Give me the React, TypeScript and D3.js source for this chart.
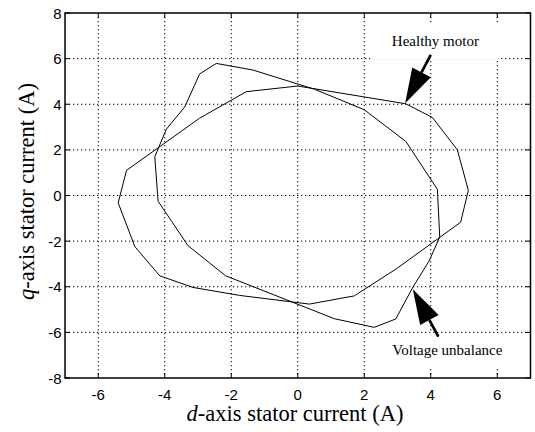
import * as d3 from "d3";

// d/q stator current trajectories (A)
const healthyD = [-3.15, -1.75, 0.35, 1.7, 2.95, 4.9, 5.13, 4.8, 4.05, 3.25, 0.0, -1.55, -2.95, -5.15, -5.4, -4.9, -4.15];
const healthyQ = [-4.03, -4.38, -4.76, -4.4, -3.23, -1.17, 0.23, 2.0, 3.42, 4.02, 4.8, 4.55, 3.39, 1.1, -0.32, -2.24, -3.52];

const unbalanceD = [-2.45, -1.35, 0.5, 2.0, 3.25, 4.2, 4.27, 3.95, 3.45, 2.95, 2.3, 1.1, -2.17, -3.3, -4.2, -4.3, -3.95, -3.4, -2.95];
const unbalanceQ = [5.79, 5.5, 4.66, 3.76, 2.37, 0.27, -1.82, -2.87, -4.05, -5.41, -5.78, -5.4, -3.52, -2.2, -0.25, 1.7, 2.91, 3.88, 5.33];

const xTicks = [-6, -4, -2, 0, 2, 4, 6];
const yTicks = [-8, -6, -4, -2, 0, 2, 4, 6, 8];

const annotations = [
  { label: "Healthy motor", tip: [3.23, 4.04], tail: [4.0, 6.16], text: [4.14, 6.55] },
  { label: "Voltage unbalance", tip: [3.46, -4.11], tail: [4.23, -6.19], text: [4.5, -6.99] },
];

const width = 535;
const height = 432;
const margin = { top: 13, right: 4.5, bottom: 54, left: 65 };

const serif = "'Liberation Serif', 'Times New Roman', serif";
const sans = "'Liberation Sans', Arial, Helvetica, sans-serif";

export default function App() {
  const x = d3.scaleLinear().domain([-7, 7]).range([margin.left, width - margin.right]);
  const y = d3.scaleLinear().domain([-8, 8]).range([height - margin.bottom, margin.top]);
  const [x0, x1] = x.range();
  const [y0, y1] = y.range();

  const pathFor = (ds: number[], qs: number[]) =>
    d3
      .line<[number, number]>()
      .x((p) => x(p[0]))
      .y((p) => y(p[1]))
      .curve(d3.curveLinearClosed)(ds.map((d, i) => [d, qs[i]] as [number, number])) ?? "";

  const tickLen = 5;

  return (
    <svg
      width={width}
      height={height}
      style={{ position: "absolute", left: 0, top: 0, display: "block", background: "#fff" }}
    >
      <rect x={0} y={0} width={width} height={height} fill="#fff" />

      {/* dotted grid */}
      <g stroke="#000" strokeWidth={1} strokeDasharray="1.3,2.7">
        {xTicks.map((t) => (
          <line key={`gx${t}`} x1={x(t)} x2={x(t)} y1={y1} y2={y0} />
        ))}
        {yTicks
          .filter((t) => t > -8 && t < 8)
          .map((t) => (
            <line key={`gy${t}`} x1={x0} x2={x1} y1={y(t)} y2={y(t)} />
          ))}
      </g>

      {/* trajectories */}
      <path d={pathFor(healthyD, healthyQ)} fill="none" stroke="#000" strokeWidth={1} />
      <path d={pathFor(unbalanceD, unbalanceQ)} fill="none" stroke="#000" strokeWidth={1} />

      {/* annotation labels and arrows */}
      {annotations.map((a) => {
        const tx = x(a.tip[0]);
        const ty = y(a.tip[1]);
        const sx = x(a.tail[0]);
        const sy = y(a.tail[1]);
        const len = Math.hypot(sx - tx, sy - ty);
        const ux = (sx - tx) / len;
        const uy = (sy - ty) / len;
        const headLen = 35;
        const half = 10.5;
        const bx = tx + ux * headLen;
        const by = ty + uy * headLen;
        const px = -uy;
        const py = ux;
        const lx = x(a.text[0]);
        const ly = y(a.text[1]);
        const halfW = a.label.length * 3.3;
        return (
          <g key={a.label}>
            <rect x={lx - halfW - 22} y={ly - 22} width={halfW * 2 + 42} height={35} fill="#fff" />
            <text x={lx} y={ly} fontFamily={serif} fontSize={15} textAnchor="middle" fill="#000">
              {a.label}
            </text>
            <line x1={bx} y1={by} x2={sx} y2={sy} stroke="#000" strokeWidth={2.7} />
            <polygon
              points={`${tx},${ty} ${bx + px * half},${by + py * half} ${bx - px * half},${by - py * half}`}
              fill="#000"
            />
          </g>
        );
      })}

      {/* inward ticks on all sides */}
      <g stroke="#000" strokeWidth={1}>
        {xTicks.map((t) => (
          <g key={`tx${t}`}>
            <line x1={x(t)} x2={x(t)} y1={y0} y2={y0 - tickLen} />
            <line x1={x(t)} x2={x(t)} y1={y1} y2={y1 + tickLen} />
          </g>
        ))}
        {yTicks.map((t) => (
          <g key={`ty${t}`}>
            <line x1={x0} x2={x0 + tickLen} y1={y(t)} y2={y(t)} />
            <line x1={x1} x2={x1 - tickLen} y1={y(t)} y2={y(t)} />
          </g>
        ))}
      </g>

      {/* axes box */}
      <rect x={x0} y={y1} width={x1 - x0} height={y0 - y1} fill="none" stroke="#000" strokeWidth={1.5} />

      {/* tick labels */}
      <g fontFamily={sans} fontSize={15} fill="#000">
        {xTicks.map((t) => (
          <text key={`lx${t}`} x={x(t)} y={y0 + 21.5} textAnchor="middle">
            {t}
          </text>
        ))}
        {yTicks.map((t) => (
          <text key={`ly${t}`} x={x0 - 3.5} y={y(t) + 5.5} textAnchor="end">
            {t}
          </text>
        ))}
      </g>

      {/* axis titles */}
      <text x={295} y={421} fontFamily={serif} fontSize={22.5} textAnchor="middle" fill="#000">
        <tspan fontStyle="italic">d</tspan>-axis stator current (A)
      </text>
      <text
        transform={`translate(33.5, ${(y0 + y1) / 2 - 4}) rotate(-90)`}
        fontFamily={serif}
        fontSize={22.5}
        textAnchor="middle"
        fill="#000"
      >
        <tspan fontStyle="italic">q</tspan>-axis stator current (A)
      </text>
    </svg>
  );
}
